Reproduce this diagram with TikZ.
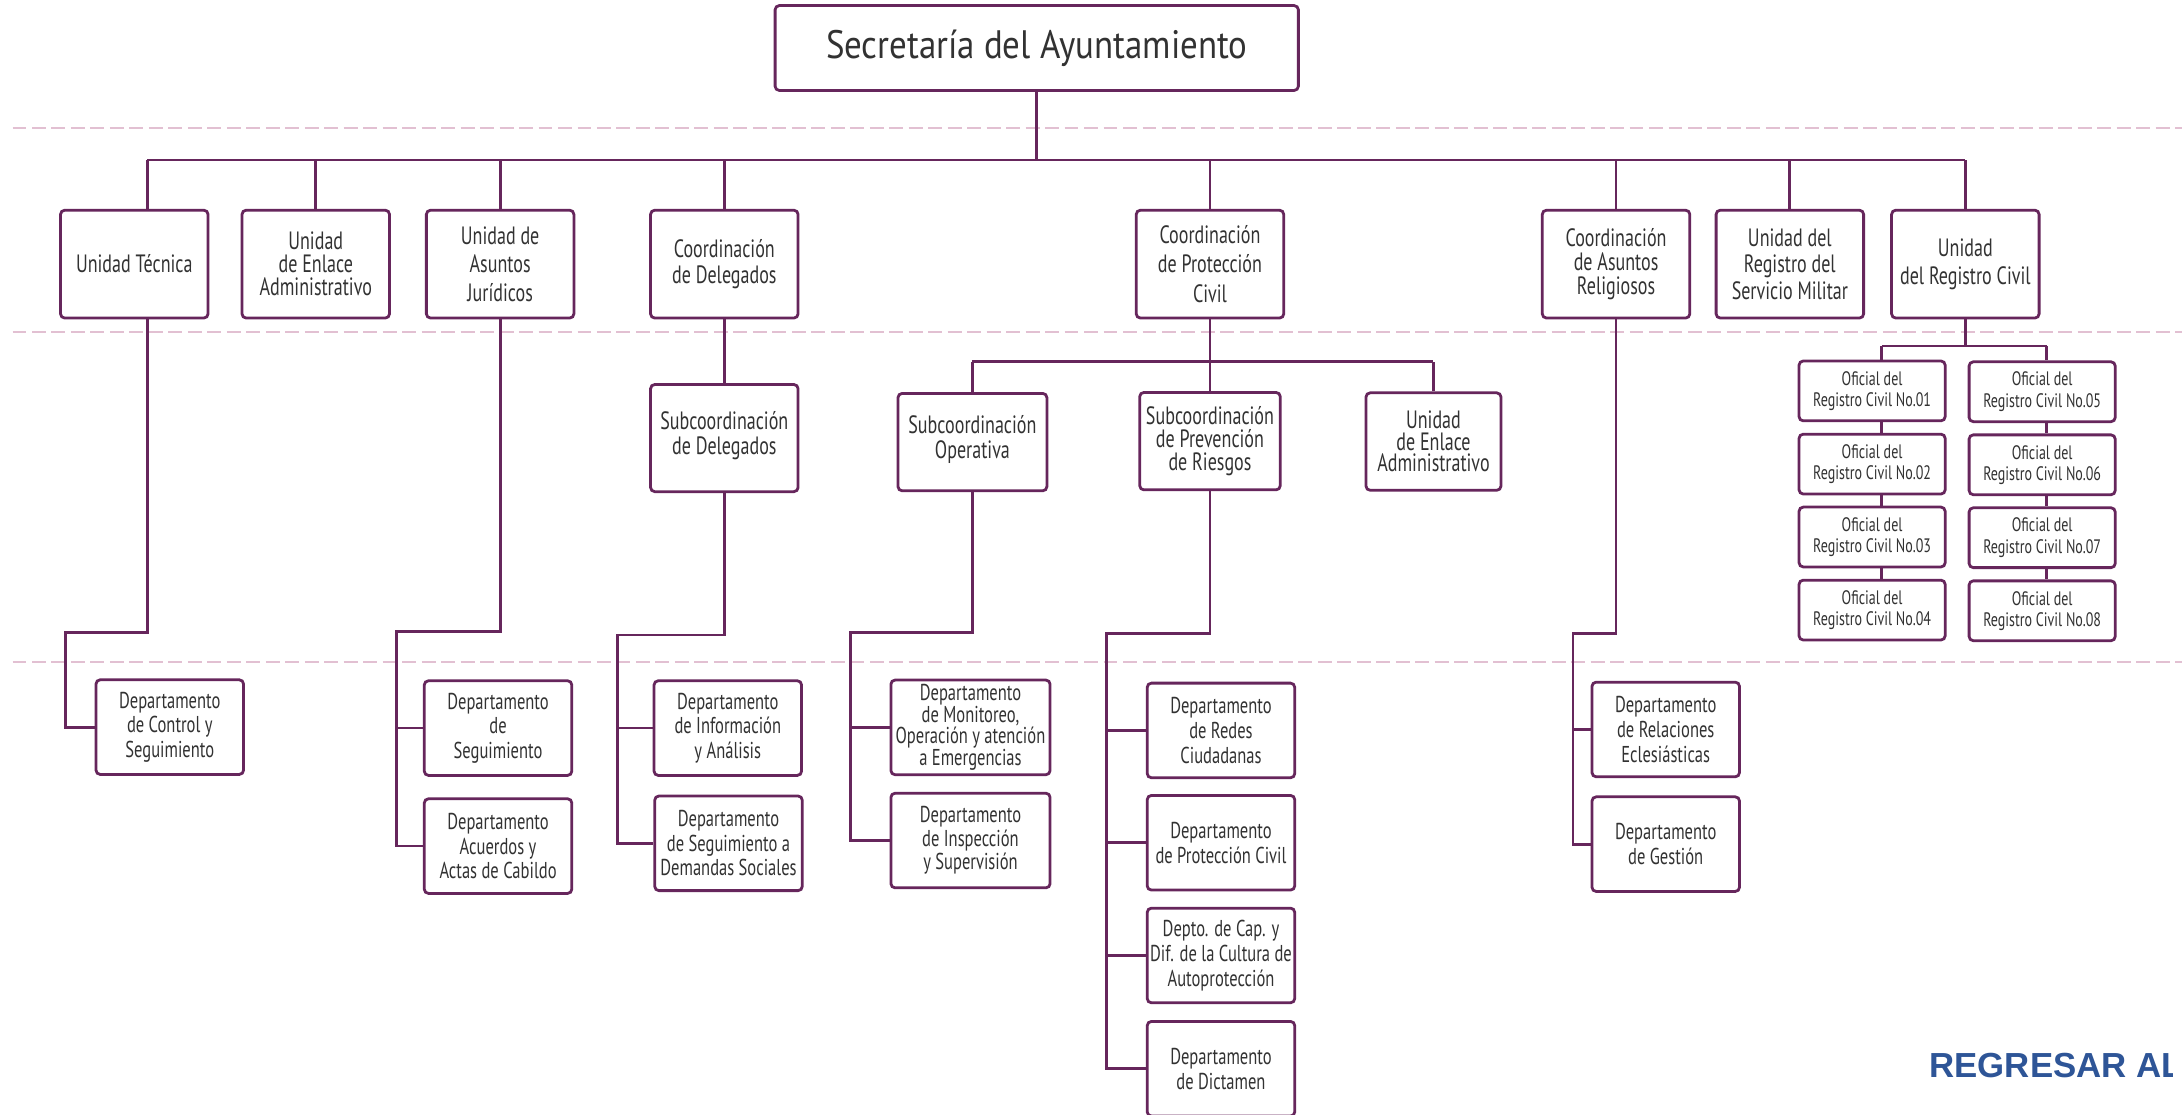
\documentclass[tikz,border=0pt]{standalone}
\usepackage{fontspec}
\setmainfont{PT Sans}
\newfontfamily\cf{PT Sans}[FakeStretch=0.72]
\newfontfamily\tf{PT Sans}[FakeStretch=0.88]
\newfontfamily\rgf{Liberation Sans}
\usetikzlibrary{calc}
\definecolor{pur}{RGB}{102,38,92}
\definecolor{txt}{RGB}{50,50,50}
\definecolor{pinkd}{RGB}{226,192,210}
\definecolor{blu}{RGB}{46,85,151}
\tikzset{
  conn/.style={draw=pur, line width=2pt, line join=miter},
  box/.style={draw=pur, line width=2pt, fill=white, rounded corners=3pt, inner sep=1pt, align=center, text=txt},
  topbox/.style={box, minimum width=376pt, minimum height=61pt, font=\tf\fontsize{28.5}{30}\selectfont},
  leadsk/.style={font=\cf\fontsize{18}{#1}\selectfont},
  leaddp/.style={font=\cf\fontsize{16.5}{#1}\selectfont},
  lone/.style={box, minimum width=106pt, minimum height=77.5pt, leadsk=19},
  ltwo/.style={box, minimum width=106pt, minimum height=70pt, leadsk=18},
  lthree/.style={box, minimum width=106pt, minimum height=68pt, leaddp=17.5},
  ofi/.style={box, minimum width=105pt, minimum height=43pt, font=\cf\fontsize{14}{15.3}\selectfont},
  guide/.style={draw=pinkd, line width=1.5pt, dash pattern=on 10pt off 4pt}
}
\begin{document}
\begin{tikzpicture}[x=1pt,y=-1pt]
\useasboundingbox[fill=white] (0,0) rectangle (1568,801);
% guide lines
\draw[guide] (9,91.8) -- (1568,91.8);
\draw[guide] (9,238.8) -- (1568,238.8);
\draw[guide] (9,476) -- (1568,476);

% top
\node[topbox] (top) at (745,34.5) {Secretaría del Ayuntamiento};

% level 1
\node[lone] (ut) at (96.5,189.8) {Unidad Técnica};
\node[lone, leadsk=16.5] (uea) at (226.9,189.8) {Unidad\\de Enlace\\Administrativo};
\node[lone, leadsk=20.4] (uaj) at (359.4,189.8) {Unidad de\\Asuntos\\Jurídicos};
\node[lone] (cd) at (520.5,189.8) {Coordinación\\de Delegados};
\node[lone, leadsk=21] (cpc) at (869.5,189.8) {Coordinación\\de Protección\\Civil};
\node[lone, leadsk=17] (car) at (1161.3,189.8) {Coordinación\\de Asuntos\\Religiosos};
\node[lone] (urm) at (1286.2,189.8) {Unidad del\\Registro del\\Servicio Militar};
\node[lone, leadsk=20.4] (urc) at (1412.3,189.8) {Unidad\\del Registro Civil};

\coordinate (bL) at (105.9,115);
\draw[conn] (top.south) -- (top.south |- bL);
\draw[conn] (bL) -- (urc.north |- bL);
\draw[conn] (bL) -- (bL |- ut.north);
\foreach \n in {uea,uaj,cd,cpc,car,urm,urc} \draw[conn] (\n.north) -- (\n.north |- bL);

% level 2
\node[ltwo, minimum height=77pt] (sd) at (520.5,314.8) {Subcoordinación\\de Delegados\\[-10pt]};
\node[ltwo, minimum width=107pt] (so) at (698.8,317.7) {Subcoordinación\\Operativa\\[-10pt]};
\node[ltwo, minimum width=101pt, leadsk=16.8] (spr) at (869.5,317) {Subcoordinación\\de Prevención\\de Riesgos};
\node[ltwo, minimum width=97pt, leadsk=15.6] (uea2) at (1030.1,317.3) {Unidad\\de Enlace\\Administrativo};

\draw[conn] (cd.south) -- (sd.north);
\coordinate (b2) at (869.5,259.9);
\draw[conn] (cpc.south) -- (spr.north);
\draw[conn] (so.north |- b2) -- (uea2.north |- b2);
\draw[conn] (so.north) -- (so.north |- b2);
\draw[conn] (uea2.north) -- (uea2.north |- b2);

% oficiales
\node[ofi] (o1) at (1345.3,280.9) {Oficial del\\Registro Civil No.01};
\node[ofi] (o2) at (1345.3,333.5) {Oficial del\\Registro Civil No.02};
\node[ofi] (o3) at (1345.3,385.9) {Oficial del\\Registro Civil No.03};
\node[ofi] (o4) at (1345.3,438.4) {Oficial del\\Registro Civil No.04};
\node[ofi] (o5) at (1467.5,281.5) {Oficial del\\Registro Civil No.05};
\node[ofi] (o6) at (1467.5,334) {Oficial del\\Registro Civil No.06};
\node[ofi] (o7) at (1467.5,386.4) {Oficial del\\Registro Civil No.07};
\node[ofi] (o8) at (1467.5,438.9) {Oficial del\\Registro Civil No.08};
\coordinate (k1) at (1352.3,248.6);
\coordinate (k2) at (1470.8,248.6);
\draw[conn] (urc.south) -- (urc.south |- k1);
\draw[conn] (k1) -- (k2);
\draw[conn] (k1) -- (k1 |- o1.north);
\draw[conn] (k1 |- o1.south) -- (k1 |- o2.north);
\draw[conn] (k1 |- o2.south) -- (k1 |- o3.north);
\draw[conn] (k1 |- o3.south) -- (k1 |- o4.north);
\draw[conn] (k2) -- (k2 |- o5.north);
\draw[conn] (k2 |- o5.south) -- (k2 |- o6.north);
\draw[conn] (k2 |- o6.south) -- (k2 |- o7.north);
\draw[conn] (k2 |- o7.south) -- (k2 |- o8.north);

% level 3
\node[lthree] (dcs) at (122,522.5) {Departamento\\de Control  y\\Seguimiento};
\node[lthree] (dsj) at (357.9,523.2) {Departamento\\de\\Seguimiento};
\node[lthree] (dac) at (357.9,608) {Departamento\\Acuerdos y\\Actas de Cabildo};
\node[lthree] (dia) at (523,523.2) {Departamento\\de Información\\y Análisis};
\node[lthree] (dsd) at (523.5,606) {Departamento\\de Seguimiento a\\Demandas Sociales};
\node[lthree, minimum width=114.4pt, leaddp=14.5] (dmo) at (697.4,522.7) {Departamento\\de  Monitoreo,\\Operación y atención\\a Emergencias};
\node[lthree, minimum width=114.4pt, leaddp=16.8] (dis) at (697.4,604) {Departamento\\de Inspección\\y Supervisión};
\node[lthree, leaddp=18] (drc) at (877.4,524.9) {Departamento\\de Redes\\Ciudadanas};
\node[lthree, leaddp=18] (dpc) at (877.4,605.6) {Departamento\\de Protección Civil};
\node[lthree, leaddp=18] (dcap) at (877.4,686.6) {Depto. de Cap. y\\Dif. de la Cultura de\\Autoprotección};
\node[lthree, leaddp=18] (ddi) at (877.4,768) {Departamento\\de Dictamen};
\node[lthree, leaddp=18] (dre) at (1197,524.2) {Departamento\\de Relaciones\\Eclesiásticas};
\node[lthree, leaddp=18] (dge) at (1197,606.6) {Departamento\\de Gestión};

\coordinate (e1) at (46.9,454.6);
\draw[conn] (bL |- ut.south) |- (e1) |- (dcs.west);
\coordinate (e2) at (284.8,453.9);
\draw[conn] (uaj.south) |- (e2) |- (dac.west);
\draw[conn] (e2 |- dsj.west) -- (dsj.west);
\coordinate (e3) at (443.6,456.3);
\draw[conn] (sd.south) |- (e3) |- (dsd.west);
\draw[conn] (e3 |- dia.west) -- (dia.west);
\coordinate (e4) at (611,454.6);
\draw[conn] (so.south) |- (e4) |- (dis.west);
\draw[conn] (e4 |- dmo.west) -- (dmo.west);
\coordinate (e5) at (795.3,455.1);
\draw[conn] (spr.south) |- (e5) |- (ddi.west);
\draw[conn] (e5 |- drc.west) -- (drc.west);
\draw[conn] (e5 |- dpc.west) -- (dpc.west);
\draw[conn] (e5 |- dcap.west) -- (dcap.west);
\coordinate (e6) at (1130.4,455.1);
\draw[conn] (car.south) |- (e6) |- (dge.west);
\draw[conn] (e6 |- dre.west) -- (dre.west);

% link text, cut at the right edge
\begin{scope}
\clip (0,0) rectangle (1561.5,801);
\node[anchor=base west, inner sep=0pt, font=\rgf\bfseries\fontsize{25}{25}\selectfont, text=blu] (reg) at (1386.4,774.2) {REGRESAR AL};
\end{scope}
\end{tikzpicture}
\end{document}
